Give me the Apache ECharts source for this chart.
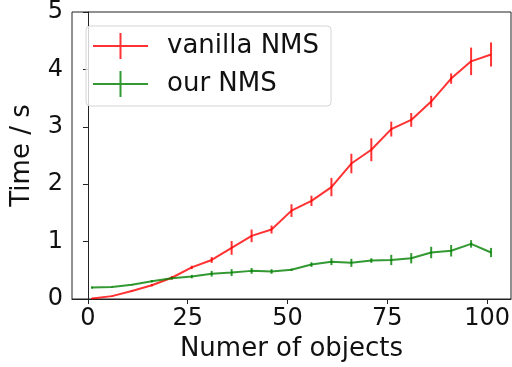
<!DOCTYPE html>
<html>
<head>
<meta charset="utf-8">
<script src="https://cdn.jsdelivr.net/npm/echarts@6/dist/echarts.min.js"></script>
<style>
html,body{margin:0;padding:0;background:#fff;}
#chart{width:512px;height:367px;}
</style>
</head>
<body>
<div id="chart"></div>
<script>
var objects = [1, 6, 11, 16, 21, 26, 31, 36, 41, 46, 51, 56, 61, 66, 71, 76, 81, 86, 91, 96, 101];
var vanillaMean = [0.01, 0.05, 0.14, 0.24, 0.37, 0.55, 0.68, 0.89, 1.10, 1.21, 1.54, 1.71, 1.95, 2.36, 2.60, 2.96, 3.12, 3.44, 3.84, 4.14, 4.26];
var vanillaErr = [0.01, 0.01, 0.01, 0.02, 0.03, 0.03, 0.05, 0.12, 0.11, 0.07, 0.11, 0.09, 0.16, 0.17, 0.20, 0.13, 0.12, 0.10, 0.09, 0.24, 0.21];
var oursMean = [0.20, 0.21, 0.25, 0.31, 0.36, 0.39, 0.44, 0.46, 0.49, 0.48, 0.51, 0.60, 0.65, 0.63, 0.67, 0.68, 0.71, 0.81, 0.84, 0.96, 0.81];
var oursErr = [0.02, 0.01, 0.01, 0.02, 0.02, 0.03, 0.05, 0.06, 0.05, 0.04, 0.02, 0.04, 0.06, 0.07, 0.04, 0.09, 0.09, 0.10, 0.10, 0.065, 0.08];
var xTicks = [0, 25, 50, 75, 100];
var seriesNames = ['vanilla NMS', 'our NMS'];

var RED = 'rgba(255,0,0,0.8)';
var GREEN = 'rgba(0,128,0,0.8)';
var FONT = 'DejaVu Sans';
var crossIcon = 'path://M0,12 L55,12 L55,14 L0,14 Z M26.5,0 L28.5,0 L28.5,26 L26.5,26 Z';

function pairs(xs, ys) {
  return xs.map(function (x, i) { return [x, ys[i]]; });
}
function errData(xs, ys, es) {
  return xs.map(function (x, i) { return [x, ys[i] - es[i], ys[i] + es[i]]; });
}
function errSeries(data, color) {
  return {
    type: 'custom',
    silent: true,
    data: data,
    encode: { x: 0, y: [1, 2] },
    renderItem: function (params, api) {
      var p1 = api.coord([api.value(0), api.value(1)]);
      var p2 = api.coord([api.value(0), api.value(2)]);
      return {
        type: 'line',
        shape: { x1: p1[0], y1: p1[1], x2: p2[0], y2: p2[1] },
        style: { stroke: color, lineWidth: 2 }
      };
    },
    z: 3
  };
}

var chart = echarts.init(document.getElementById('chart'), null, { renderer: 'canvas' });
chart.setOption({
  animation: false,
  backgroundColor: '#fff',
  textStyle: { fontFamily: FONT },
  grid: {
    left: 72, right: 1, top: 12, bottom: 68,
    show: true, borderColor: '#222', borderWidth: 1,
    containLabel: false, outerBoundsMode: 'none'
  },
  legend: {
    orient: 'vertical',
    left: 86, top: 26,
    padding: [7, 12, 9, 7],
    itemWidth: 55, itemHeight: 26, itemGap: 12,
    borderColor: '#d5d5d5', borderWidth: 1, borderRadius: 4,
    backgroundColor: 'rgba(255,255,255,0.8)',
    textStyle: { fontFamily: FONT, fontSize: 26, color: '#111', padding: [0, 0, 0, 14] },
    data: [
      { name: seriesNames[0], icon: crossIcon, itemStyle: { color: RED } },
      { name: seriesNames[1], icon: crossIcon, itemStyle: { color: GREEN } }
    ]
  },
  xAxis: {
    type: 'value',
    min: -4, max: 106,
    name: 'Numer of objects',
    nameLocation: 'middle',
    nameGap: 36,
    nameTextStyle: { fontFamily: FONT, fontSize: 26, color: '#111' },
    axisLine: { show: true, onZero: false, lineStyle: { color: '#222', width: 1 } },
    axisTick: { show: true, length: 5, lineStyle: { color: '#222' }, customValues: xTicks },
    axisLabel: { fontFamily: FONT, fontSize: 24, color: '#111', margin: 8, customValues: xTicks },
    splitLine: { show: false }
  },
  yAxis: {
    type: 'value',
    min: 0, max: 5, interval: 1,
    name: 'Time / s',
    nameLocation: 'middle',
    nameGap: 37,
    nameTextStyle: { fontFamily: FONT, fontSize: 26, color: '#111' },
    axisLine: { show: true, lineStyle: { color: '#222', width: 1 } },
    axisTick: { show: true, length: 5, lineStyle: { color: '#222' } },
    axisLabel: { fontFamily: FONT, fontSize: 24, color: '#111', margin: 9, padding: [4, 0, 0, 0] },
    splitLine: { show: false }
  },
  series: [
    {
      name: seriesNames[0], type: 'line', data: pairs(objects, vanillaMean),
      showSymbol: false, symbol: 'none',
      lineStyle: { color: RED, width: 2 }, itemStyle: { color: RED }, z: 2
    },
    errSeries(errData(objects, vanillaMean, vanillaErr), RED),
    {
      name: seriesNames[1], type: 'line', data: pairs(objects, oursMean),
      showSymbol: false, symbol: 'none',
      lineStyle: { color: GREEN, width: 2 }, itemStyle: { color: GREEN }, z: 4
    },
    errSeries(errData(objects, oursMean, oursErr), GREEN)
  ]
});
</script>
</body>
</html>
